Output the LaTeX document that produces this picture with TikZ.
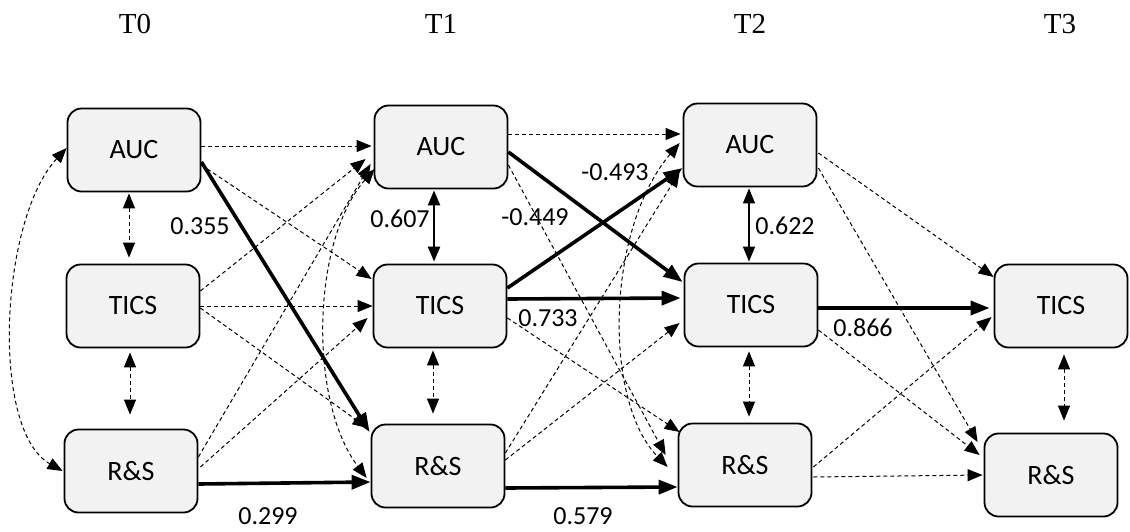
\documentclass[tikz,border=0pt]{standalone}
\usepackage{fontspec}
\setmainfont{Liberation Serif}
\newfontfamily\boxfont{Carlito}
\usetikzlibrary{arrows.meta,calc}
\definecolor{boxgray}{HTML}{F2F2F2}
\begin{document}
\begin{tikzpicture}[x=1pt,y=-1pt,
  var/.style={draw,line width=1.8pt,rounded corners=14pt,fill=boxgray,minimum width=133pt,minimum height=83pt,inner sep=0pt,font=\boxfont\fontsize{28}{32}\selectfont},
  hdr/.style={font=\fontsize{29}{33}\selectfont,inner sep=0pt},
  lbl/.style={font=\boxfont\fontsize{26}{30}\selectfont,inner sep=0pt},
  dtip/.tip={Triangle[length=15pt,width=12pt]},
  ttip/.tip={Triangle[length=19pt,width=14pt]},
  dsh/.style={line width=1pt,dash pattern=on 4pt off 3pt,-dtip},
  dsh2/.style={line width=1pt,dash pattern=on 4pt off 3pt,dtip-dtip},
  thk/.style={line width=3.6pt,-ttip},
  sol2/.style={dtip-dtip}]
\useasboundingbox (0,0) rectangle (1130,531);
% headers
\node[hdr] (h0) at (135,24) {T0};
\node[hdr] (h1) at (441,24) {T1};
\node[hdr] (h2) at (750,24) {T2};
\node[hdr] (h3) at (1060,24) {T3};
% variables
\node[var] (a0) at (134,150) {AUC};
\node[var] (t0) at (133,306) {TICS};
\node[var] (r0) at (131,471) {R\&S};
\node[var] (a1) at (441,147) {AUC};
\node[var] (t1) at (440,306) {TICS};
\node[var] (r1) at (438,466) {R\&S};
\node[var] (a2) at (750,145) {AUC};
\node[var] (t2) at (751,305) {TICS};
\node[var] (r2) at (745,465) {R\&S};
\node[var] (t3) at (1061,306) {TICS};
\node[var] (r3) at (1051,475) {R\&S};
% T0 correlations
\draw[dsh2] ($(a0.south)+(-5,1)$) -- ($(t0.north)+(-4,-6)$);
\draw[dsh2] ($(t0.south)+(-3,4)$) -- ($(r0.north)+(-1,-14)$);
\draw[dsh2] ($(a0.west)+(0,-2)$) .. controls (0,220) and (-10,430) .. ($(r0.west)+(-1,0)$);
% T0 -> T1
\draw[dsh] ($(a0.east)+(0,-4)$) -- ($(a1.west)+(-2,-1)$);
\draw[dsh] ($(a0.east)+(0,15)$) -- ($(t1.west)+(-1,-27)$);
\draw[thk] ($(a0.east)+(0,12)$) -- ($(r1.west)+(-1,-34)$);
\draw[dsh] ($(t0.east)+(0,-15)$) -- ($(a1.west)+(-8,12)$);
\draw[dsh] (t0.east) -- (t1.west);
\draw[dsh] ($(t0.east)+(0,2)$) -- ($(r1.west)+(-3,-38)$);
\draw[dsh] ($(r0.east)+(0,-14)$) -- ($(a1.west)+(-3,17)$);
\draw[dsh] ($(r0.east)+(2,-4)$) -- ($(t1.west)+(-5,12)$);
\draw[thk] ($(r0.east)+(0,13)$) -- ($(r1.west)+(0,16)$);
% T1 correlations
\draw[sol2,line width=2.4pt] ($(a1.south)+(-7,1)$) -- ($(t1.north)+(-6,-2)$);
\draw[dsh2] ($(t1.south)+(-7,2)$) -- ($(r1.north)+(-5,-10)$);
\draw[dsh2] ($(a1.west)+(1,22)$) .. controls (312,240) and (308,400) .. ($(r1.west)+(-4,12)$);
% T1 -> T2
\draw[dsh] ($(a1.east)+(0,-13)$) -- ($(a2.west)+(-2,-11)$);
\draw[thk] ($(a1.east)+(0,5)$) -- ($(t2.west)+(-1,-23)$);
\draw[dsh] ($(a1.east)+(0,18)$) -- ($(r2.west)+(-12,-10)$);
\draw[thk] ($(t1.east)+(0,-18)$) -- ($(a2.west)+(0,23)$);
\draw[thk] ($(t1.east)+(0,-7)$) -- ($(t2.west)+(-3,-7)$);
\draw[dsh] ($(t1.east)+(0,12)$) -- ($(r2.west)+(2,-33)$);
\draw[dsh] ($(r1.east)+(0,-13)$) -- ($(a2.west)+(-3,27)$);
\draw[dsh] ($(r1.east)+(0,-6)$) -- ($(t2.west)+(-4,18)$);
\draw[thk] ($(r1.east)+(0,22)$) -- ($(r2.west)+(0,22)$);
% T2 correlations
\draw[sol2,line width=1.3pt] ($(a2.south)+(-1,1)$) -- ($(t2.north)+(-2,-1)$);
\draw[dsh2] ($(t2.south)+(-2,4)$) -- ($(r2.north)+(4,-6)$);
\draw[dsh2] ($(a2.west)+(-3,-2)$) .. controls (606,230) and (603,400) .. ($(r2.west)+(-10,2)$);
% T2 -> T3
\draw[dsh] ($(a2.east)+(1,8)$) -- ($(t3.west)+(0,-29)$);
\draw[dsh] ($(a2.east)+(1,23)$) -- ($(r3.west)+(-6,-33)$);
\draw[thk] ($(t2.east)+(0,3)$) -- ($(t3.west)+(-4,2)$);
\draw[dsh] ($(t2.east)+(0,25)$) -- ($(r3.west)+(-4,-20)$);
\draw[dsh] ($(r2.east)+(1,2)$) -- ($(t3.west)+(-2,11)$);
\draw[dsh] ($(r2.east)+(1,12)$) -- ($(r3.west)+(-1,0)$);
% T3 correlation
\draw[dsh2] ($(t3.south)+(3,6)$) -- ($(r3.north)+(13,-12)$);
% labels
\node[lbl] (l355) at (200,226) {0.355};
\node[lbl] (l299) at (268,516) {0.299};
\node[lbl] (l607) at (400,219) {0.607};
\node[lbl] (l449) at (535,217) {-0.449};
\node[lbl] (l493) at (615,172) {-0.493};
\node[lbl] (l733) at (548,318) {0.733};
\node[lbl] (l579) at (583,516) {0.579};
\node[lbl] (l622) at (785,226) {0.622};
\node[lbl] (l866) at (863,328) {0.866};
\end{tikzpicture}
\end{document}
